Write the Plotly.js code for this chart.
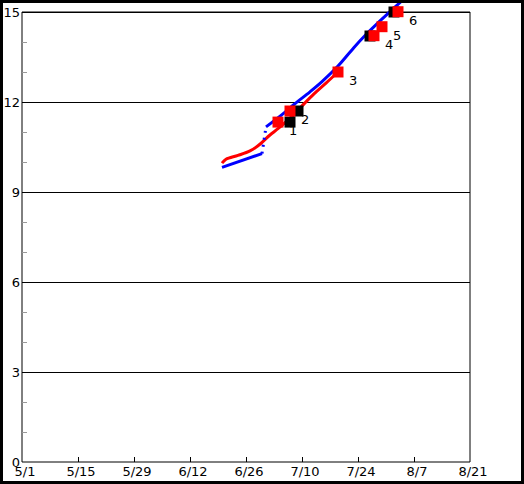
<!DOCTYPE html>
<html><head><meta charset="utf-8">
<script src="https://cdn.plot.ly/plotly-3.0.1.min.js"></script>
<style>
html,body{margin:0;padding:0;background:#fff;}
#chart{width:518px;height:478px;border:3px solid #000;}
</style></head><body><div id="chart"></div>
<script>
// Red curve
const redDates = ['2001-06-20','2001-06-21','2001-06-24','2001-06-27','2001-06-29','2001-07-02','2001-07-04','2001-07-07','2001-07-10','2001-07-13','2001-07-16','2001-07-19'];
const redValues = [9.96,10.09,10.22,10.37,10.54,10.90,11.11,11.46,11.87,12.27,12.63,13.00];
// Blue curve, lower part, jump, upper part
const blueLowDates = ['2001-06-20','2001-06-30'];
const blueLowValues = [9.82,10.28];
const blueJumpDates = ['2001-06-30','2001-07-01'];
const blueJumpValues = [10.28,11.17];
const blueUpDates = ['2001-07-01','2001-07-05','2001-07-08','2001-07-12','2001-07-15','2001-07-19','2001-07-23','2001-07-26','2001-07-29','2001-08-01','2001-08-04','2001-08-06'];
const blueUpValues = [11.17,11.58,11.92,12.34,12.68,13.20,13.82,14.25,14.64,15.01,15.38,15.65];
// Black markers
const blackDates = ['2001-07-07','2001-07-09','2001-07-27','2001-08-02'];
const blackValues = [11.33,11.70,14.20,15.00];
// Red markers and their labels
const redPtDates = ['2001-07-04','2001-07-07','2001-07-19','2001-07-28','2001-07-30','2001-08-03'];
const redPtValues = [11.33,11.70,13.00,14.21,14.51,15.01];
const redPtLabels = ['1','2','3','4','5','6'];
// Axis ticks
const xTickStart = '2001-05-01';
const xRange = ['2001-05-01','2001-08-21'];

const FONT = {family:'DejaVu Sans, sans-serif', size:13, color:'#000'};

const traces = [
  {x:redDates, y:redValues, mode:'lines', line:{color:'#ff0000', width:3, shape:'spline', smoothing:1}},
  {x:blueLowDates, y:blueLowValues, mode:'lines', line:{color:'#0000ff', width:3}},
  {x:blueJumpDates, y:blueJumpValues, mode:'lines', line:{color:'#0000ff', width:3, dash:'2px,5px'}},
  {x:blueUpDates, y:blueUpValues, mode:'lines', line:{color:'#0000ff', width:3, shape:'spline', smoothing:1}},
  {x:blackDates, y:blackValues, mode:'markers', marker:{symbol:'square', size:11, color:'#000', line:{width:0}}},
  {x:redPtDates, y:redPtValues, mode:'markers', marker:{symbol:'square', size:11, color:'#ff0000', line:{width:0}}}
];

const annotations = redPtLabels.map((t,i)=>({
  x: redPtDates[i], y: redPtValues[i], text: t, showarrow:false,
  xshift:15, yshift:-8.5, font:FONT, xanchor:'center', yanchor:'middle'
}));

const layout = {
  width:518, height:478,
  margin:{l:19, r:51, t:0, b:19, pad:0},
  paper_bgcolor:'#fff', plot_bgcolor:'#fff',
  showlegend:false,
  font:FONT,
  xaxis:{
    type:'date', range:xRange, tickmode:'linear', tick0:xTickStart, dtick:14*86400000,
    tickformat:'%-m/%-d', ticks:'inside', ticklen:5, tickwidth:1, tickcolor:'#000',
    showgrid:false, zeroline:false, showline:false, tickfont:FONT, ticklabelshift:3,
    fixedrange:true
  },
  yaxis:{
    range:[0,15.3], tickmode:'linear', tick0:0, dtick:3, ticks:'',
    showgrid:true, gridcolor:'#000', gridwidth:1, zeroline:false, showline:false,
    tickfont:FONT, ticklabelstandoff:1,
    minor:{dtick:1, ticks:'inside', ticklen:5, tickcolor:'#999', tickwidth:1, showgrid:false},
    fixedrange:true
  },
  shapes:[{type:'rect', xref:'paper', yref:'paper', x0:0, x1:1, y0:0, y1:15/15.3, line:{color:'#000', width:1}, layer:'below'}],
  annotations: annotations
};

Plotly.newPlot('chart', traces, layout, {staticPlot:true, displayModeBar:false});
</script></body></html>
